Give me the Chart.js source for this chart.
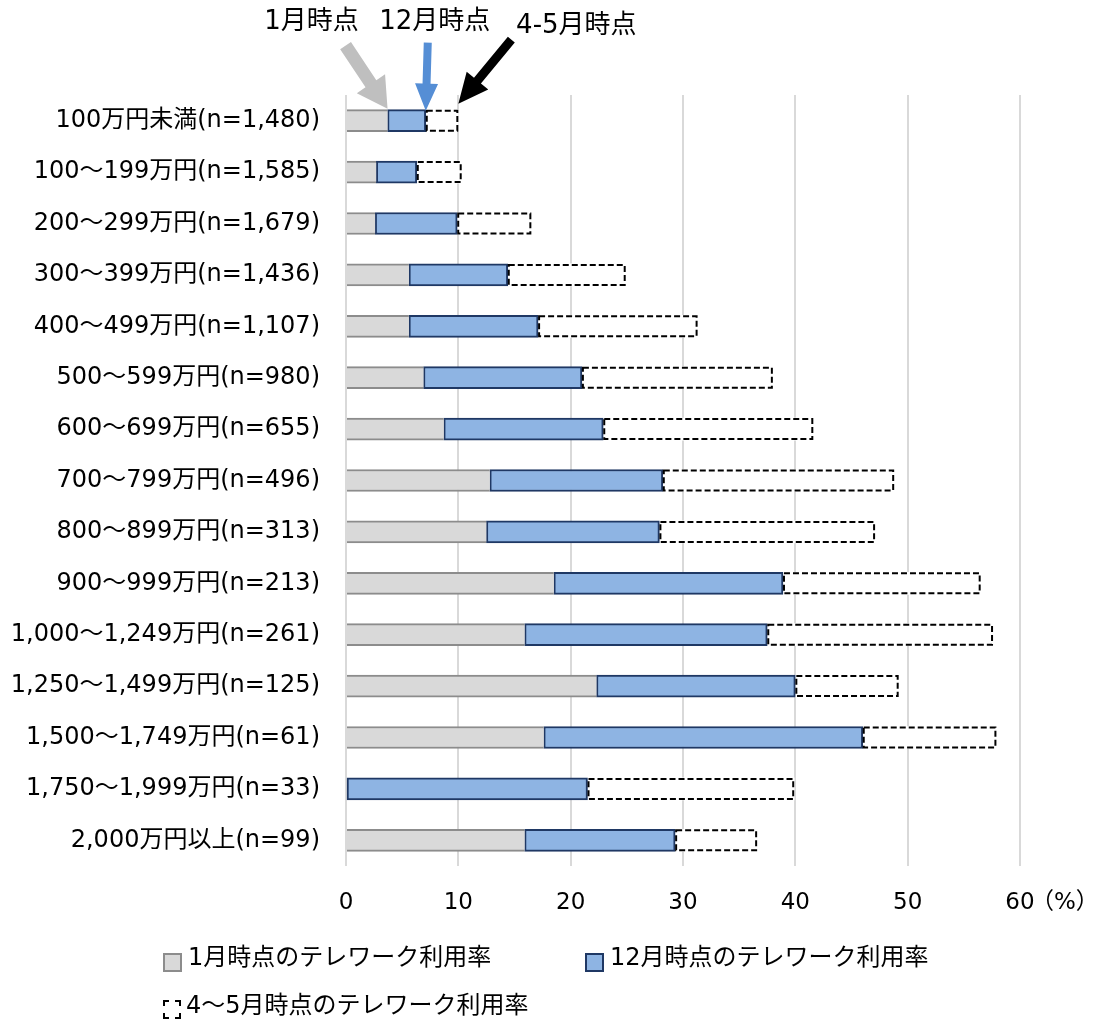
<!DOCTYPE html>
<html lang="ja">
<head>
<meta charset="utf-8">
<script src="https://cdn.jsdelivr.net/npm/chart.js@4/dist/chart.umd.min.js"></script>
<style>
body { margin: 0; background: #fff; }
#wrap { position: relative; width: 1098px; height: 1023px; }
.lg { position: absolute; font-size: 24px; font-family: 'DejaVu Sans', 'Noto Sans CJK JP', sans-serif; color: #000; white-space: nowrap; line-height: 24px; }
.box { position: absolute; box-sizing: border-box; width: 19px; height: 19px; }
</style>
</head>
<body>
<div id="wrap">
  <canvas id="incomeChart" width="1098" height="1023"></canvas>
  <div class="box" style="left:163px;top:953px;background:#d9d9d9;border:2px solid #8c8c8c;"></div>
  <div class="lg" style="left:188px;top:945px;">1月時点のテレワーク利用率</div>
  <div class="box" style="left:585px;top:953px;background:#8eb4e3;border:2px solid #1f3864;"></div>
  <div class="lg" style="left:610px;top:945px;">12月時点のテレワーク利用率</div>
  <div class="box" style="left:163px;top:1000px;width:18px;background:#fff;border:2px dashed #000;"></div>
  <div class="lg" style="left:186px;top:993px;">4～5月時点のテレワーク利用率</div>
</div>
<script>
const labels = [
    '100万円未満(n=1,480)',
    '100～199万円(n=1,585)',
    '200～299万円(n=1,679)',
    '300～399万円(n=1,436)',
    '400～499万円(n=1,107)',
    '500～599万円(n=980)',
    '600～699万円(n=655)',
    '700～799万円(n=496)',
    '800～899万円(n=313)',
    '900～999万円(n=213)',
    '1,000～1,249万円(n=261)',
    '1,250～1,499万円(n=125)',
    '1,500～1,749万円(n=61)',
    '1,750～1,999万円(n=33)',
    '2,000万円以上(n=99)'
];
// telework usage rate (%)
const jan    = [3.7, 2.7, 2.6, 5.6, 5.6, 6.9, 8.7, 12.8, 12.5, 18.5, 15.9, 22.3, 17.6, 0, 15.9];
const dec    = [7.1, 6.3, 9.9, 14.4, 17.1, 21.0, 22.9, 28.2, 27.9, 38.9, 37.5, 40.0, 46.0, 21.5, 29.3];
const aprMay = [10.0, 10.3, 16.5, 24.9, 31.3, 38.0, 41.6, 48.8, 47.1, 56.5, 57.6, 49.2, 57.9, 39.9, 36.6];
const seriesNames = ['1月時点のテレワーク利用率', '12月時点のテレワーク利用率', '4～5月時点のテレワーク利用率'];
const markerTexts = ['1月時点', '12月時点', '4-5月時点'];

const FONT = "'DejaVu Sans', 'Noto Sans CJK JP', sans-serif";

// stacked segments: jan, jan->dec, dec->apr/may
const decPart = dec.map((v, i) => +(v - jan[i]).toFixed(1));
const mayPart = aprMay.map((v, i) => +(v - dec[i]).toFixed(1));

function drawArrow(ctx, x0, y0, x1, y1, shaft, headW, headL, color) {
    const a = Math.atan2(y1 - y0, x1 - x0);
    const len = Math.hypot(x1 - x0, y1 - y0);
    ctx.save();
    ctx.translate(x1, y1);
    ctx.rotate(a);
    ctx.fillStyle = color;
    ctx.beginPath();
    ctx.moveTo(0, 0);
    ctx.lineTo(-headL, headW / 2);
    ctx.lineTo(-headL, shaft / 2);
    ctx.lineTo(-len, shaft / 2);
    ctx.lineTo(-len, -shaft / 2);
    ctx.lineTo(-headL, -shaft / 2);
    ctx.lineTo(-headL, -headW / 2);
    ctx.closePath();
    ctx.fill();
    ctx.restore();
}

const dashedBars = {
    id: 'dashedBars',
    afterDatasetsDraw(chart) {
        const ctx = chart.ctx;
        const meta = chart.getDatasetMeta(2);
        ctx.save();
        ctx.strokeStyle = '#000';
        ctx.lineWidth = 2;
        ctx.setLineDash([6, 3]);
        meta.data.forEach(bar => {
            const { x, y, base, height } = bar.getProps(['x', 'y', 'base', 'height'], true);
            const left = Math.min(x, base), right = Math.max(x, base);
            ctx.strokeRect(left + 1, y - height / 2 + 1, right - left - 2, height - 2);
        });
        ctx.restore();
    }
};

const markers = {
    id: 'markers',
    afterDraw(chart) {
        const ctx = chart.ctx;
        const xs = chart.scales.x;
        const bar = chart.getDatasetMeta(0).data[0];
        const top = bar.y - bar.height / 2;

        const gx = xs.getPixelForValue(jan[0]);
        const bx = xs.getPixelForValue(dec[0]);
        const kx = xs.getPixelForValue(aprMay[0]);
        drawArrow(ctx, gx - 42, top - 64, gx, top - 1, 13, 34, 30, '#bfbfbf');
        drawArrow(ctx, bx + 2, top - 67, bx, top + 1, 8, 23, 27, '#558ed5');
        drawArrow(ctx, kx + 53, top - 70, kx, top - 6, 9, 28, 30, '#000');

        ctx.save();
        ctx.fillStyle = '#000';
        ctx.font = '26px ' + FONT;
        ctx.textAlign = 'center';
        ctx.textBaseline = 'middle';
        ctx.fillText(markerTexts[0], gx - 76, 22);
        ctx.fillText(markerTexts[1], bx + 9, 22);
        ctx.fillText(markerTexts[2], kx + 118, 26);

        // unit after the last tick
        ctx.font = '23px ' + FONT;
        ctx.textAlign = 'left';
        ctx.fillText('（%）', xs.getPixelForValue(60) + 11, 903);
        ctx.restore();
    }
};

const ctx = document.getElementById('incomeChart').getContext('2d');
const incomeChart = new Chart(ctx, {
    type: 'bar',
    data: {
        labels: labels,
        datasets: [{
            label: seriesNames[0],
            data: jan,
            backgroundColor: '#d9d9d9',
            borderColor: '#8c8c8c',
            borderWidth: { top: 2, bottom: 2, left: 0, right: 0 },
            borderSkipped: false
        }, {
            label: seriesNames[1],
            data: decPart,
            backgroundColor: '#8eb4e3',
            borderColor: '#1f3864',
            borderWidth: 2,
            borderSkipped: false
        }, {
            label: seriesNames[2],
            data: mayPart,
            backgroundColor: '#ffffff',
            borderWidth: 0
        }]
    },
    options: {
        indexAxis: 'y',
        responsive: false,
        animation: false,
        barThickness: 22,
        layout: {
            padding: { top: 95, right: 78, bottom: 100, left: 0 }
        },
        plugins: {
            legend: { display: false },
            tooltip: { enabled: false }
        },
        scales: {
            x: {
                stacked: true,
                min: 0,
                max: 60,
                ticks: {
                    stepSize: 10,
                    color: '#000',
                    padding: 23,
                    font: { family: FONT, size: 23 }
                },
                grid: {
                    color: '#d9d9d9',
                    lineWidth: 2,
                    drawTicks: false
                },
                border: { display: false },
                afterFit(scale) { scale.height = 57; }
            },
            y: {
                stacked: true,
                ticks: {
                    color: '#000',
                    padding: 26,
                    autoSkip: false,
                    font: { family: FONT, size: 24 }
                },
                grid: { display: false, drawTicks: false },
                border: { display: false },
                afterFit(scale) { scale.width = 346; }
            }
        }
    },
    plugins: [dashedBars, markers]
});
</script>
</body>
</html>
